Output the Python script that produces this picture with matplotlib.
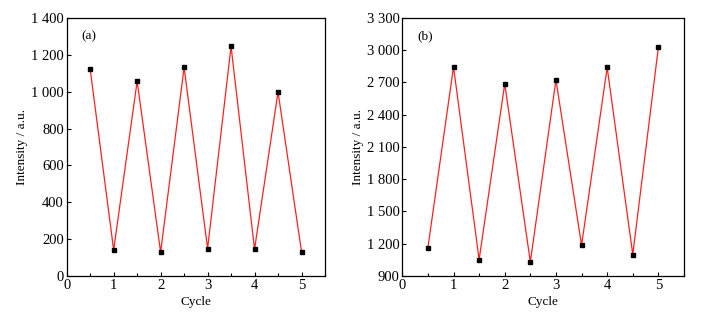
import numpy as np
import matplotlib
matplotlib.use('Agg')
import matplotlib.pyplot as plt
from matplotlib.ticker import FuncFormatter, MultipleLocator

plt.rcParams['font.family'] = ['Liberation Serif', 'DejaVu Serif']

cycle = [0.5, 1, 1.5, 2, 2.5, 3, 3.5, 4, 4.5, 5]
intensity_a = [1122, 141, 1057, 129, 1132, 149, 1246, 145, 999, 132]
intensity_b = [1164, 2846, 1052, 2688, 1031, 2725, 1186, 2840, 1099, 3029]


def space_thousands(v, pos):
    s = '{:,.0f}'.format(v)
    return s.replace(',', ' ')


fig = plt.figure(figsize=(7.08, 3.18), dpi=100)
ax1 = fig.add_axes([66.7 / 708, 1 - 276 / 318, (325 - 66.7) / 708, (276 - 18) / 318])
ax2 = fig.add_axes([402.3 / 708, 1 - 276 / 318, (684 - 402.3) / 708, (276 - 18) / 318])

panels = [
    (ax1, intensity_a, (0, 1400), 200, '(a)'),
    (ax2, intensity_b, (900, 3300), 300, '(b)'),
]

for ax, vals, ylim, ystep, tag in panels:
    ax.plot(cycle, vals, color='#ff2020', lw=0.9, marker='s', ms=3.2,
            mfc='black', mec='black')
    ax.set_xlim(0, 5.5)
    ax.set_ylim(*ylim)
    ax.xaxis.set_major_locator(MultipleLocator(1))
    ax.xaxis.set_minor_locator(MultipleLocator(0.5))
    ax.yaxis.set_major_locator(MultipleLocator(ystep))
    ax.yaxis.set_major_formatter(FuncFormatter(space_thousands))
    ax.tick_params(which='both', direction='in', labelsize=10.5, width=0.8)
    ax.tick_params(which='major', length=3)
    ax.tick_params(which='minor', length=2)
    ax.tick_params(axis='x', pad=2)
    ax.tick_params(axis='y', pad=2)
    for sp in ax.spines.values():
        sp.set_linewidth(0.9)
    ax.set_xlabel('Cycle', fontsize=9.5, labelpad=3)
    ax.set_ylabel('Intensity / a.u.', fontsize=9.5, labelpad=2)
    ax.text(0.055, 0.93, tag, transform=ax.transAxes, fontsize=9.5,
            va='center', ha='left')

fig.savefig('out.png', dpi=100)
